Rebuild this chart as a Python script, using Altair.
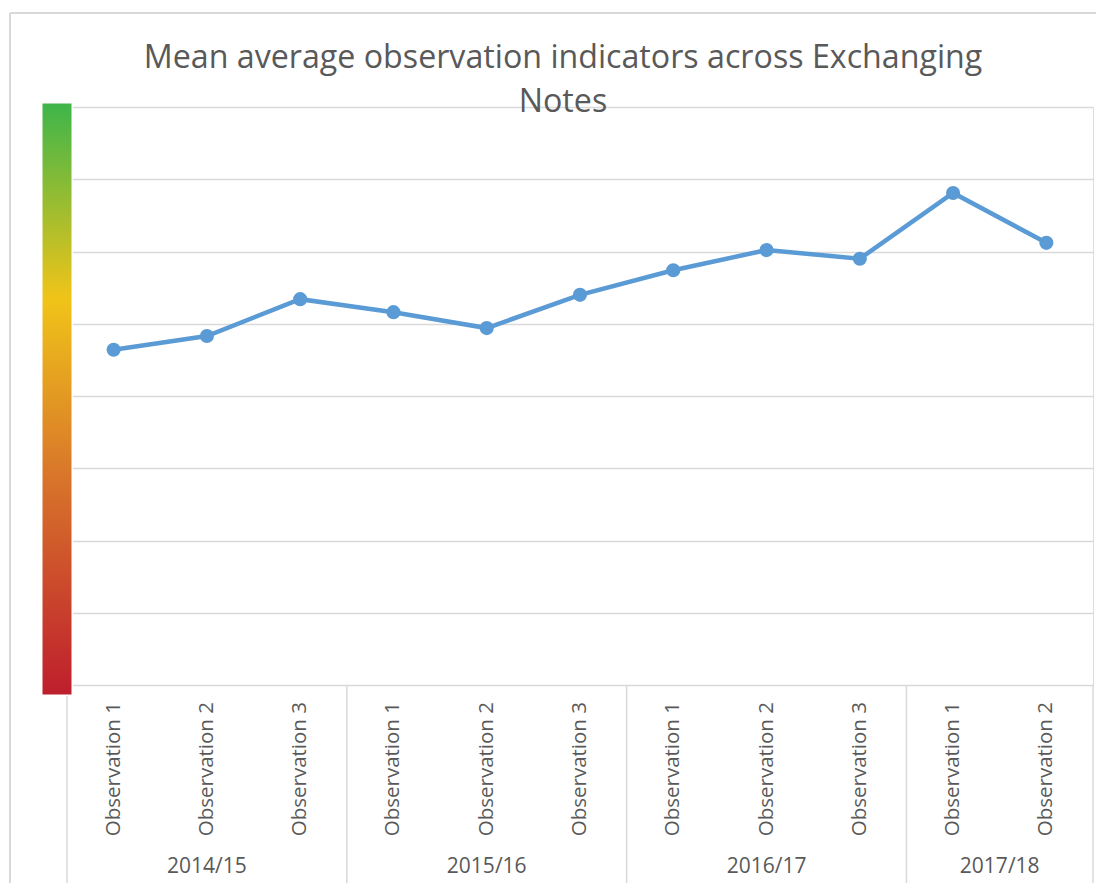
import altair as alt
import pandas as pd

# ---- data ----
years = ["2014/15", "2014/15", "2014/15",
         "2015/16", "2015/16", "2015/16",
         "2016/17", "2016/17", "2016/17",
         "2017/18", "2017/18"]
observations = ["Observation 1", "Observation 2", "Observation 3",
                "Observation 1", "Observation 2", "Observation 3",
                "Observation 1", "Observation 2", "Observation 3",
                "Observation 1", "Observation 2"]
values = [4.64, 4.83, 5.34, 5.16, 4.94, 5.40, 5.74, 6.02, 5.90, 6.81, 6.12]
y_ticks = [0, 1, 2, 3, 4, 5, 6, 7, 8]
title_lines = ["Mean average observation indicators across Exchanging", "Notes"]

# ---- tables ----
df = pd.DataFrame({"year": years, "obs": observations, "value": values})
df["idx"] = range(len(df))

groups = df.groupby("year", sort=False)["idx"].agg(["min", "max"]).reset_index()
groups["center"] = (groups["min"] + groups["max"]) / 2
bounds = sorted(set(list(groups["min"] - 0.5) + list(groups["max"] + 0.5)))
sep = pd.DataFrame({"b": bounds})

W, H = 1026, 578
FONT = "Open Sans"
GREY = "#595959"
GRID = "#d9d9d9"
BLUE = "#5B9BD5"

xscale = alt.Scale(domain=[-0.5, len(df) - 0.5], nice=False, zero=False)
yscale = alt.Scale(domain=[min(y_ticks), max(y_ticks)], nice=False)

base = alt.Chart(df)

line = base.mark_line(color=BLUE, strokeWidth=4.5).encode(
    x=alt.X("idx:Q", scale=xscale, axis=None),
    y=alt.Y("value:Q", scale=yscale,
            axis=alt.Axis(values=y_ticks, labels=False, ticks=False, domain=False,
                          grid=True, gridColor=GRID, gridWidth=1.5, title=None)),
)
points = base.mark_circle(color=BLUE, size=200, opacity=1).encode(
    x=alt.X("idx:Q", scale=xscale, axis=None),
    y=alt.Y("value:Q", scale=yscale),
)

obs_labels = base.mark_text(angle=270, align="right", baseline="middle",
                            font=FONT, fontSize=20.5, color=GREY).encode(
    x=alt.X("idx:Q", scale=xscale, axis=None),
    y=alt.value(H + 17),
    text="obs:N",
)

seps = alt.Chart(sep).mark_rule(color=GRID, strokeWidth=1.5).encode(
    x=alt.X("b:Q", scale=xscale, axis=None),
    y=alt.value(H),
    y2=alt.value(H + 200),
)

year_labels = alt.Chart(groups).mark_text(baseline="middle", align="center",
                                          font=FONT, fontSize=21, color=GREY).encode(
    x=alt.X("center:Q", scale=xscale, axis=None),
    y=alt.value(H + 182),
    text="year:N",
)

# gradient indicator bar at the left of the plot
gbar = base.mark_rect(
    color=alt.Gradient(
        gradient="linear",
        stops=[
            alt.GradientStop(color="#BE1E2D", offset=0),
            alt.GradientStop(color="#D9782A", offset=0.38),
            alt.GradientStop(color="#F0C419", offset=0.67),
            alt.GradientStop(color="#3DB54A", offset=1),
        ],
        x1=0, x2=0, y1=1, y2=0,
    ),
    stroke="white", strokeWidth=1,
).encode(
    x=alt.value(-25), x2=alt.value(5),
    y=alt.value(-4), y2=alt.value(H + 10),
)

# chart frame (top and left edges)
frame_top = base.mark_rule(color=GRID, strokeWidth=1.5).encode(
    x=alt.value(-57), x2=alt.value(W + 40), y=alt.value(-94),
)
frame_left = base.mark_rule(color=GRID, strokeWidth=1.5).encode(
    x=alt.value(-57), y=alt.value(-94), y2=alt.value(H + 210),
)

chart = alt.layer(
    frame_top, frame_left, seps, line, points, obs_labels, year_labels, gbar
).properties(
    width=W,
    height=H,
    title=alt.TitleParams(
        text=title_lines, font=FONT, fontSize=32.2, fontWeight="normal", color=GREY,
        anchor="middle", lineHeight=44, dx=-17, offset=-132, baseline="alphabetic",
        frame="group",
    ),
    padding={"left": 59, "top": 99, "right": 3, "bottom": 198},
    autosize=alt.AutoSizeParams(type="none"),
).configure_view(stroke=None).configure(background="white")

chart.save("out.html", embed_options={"renderer": "svg", "actions": False})
